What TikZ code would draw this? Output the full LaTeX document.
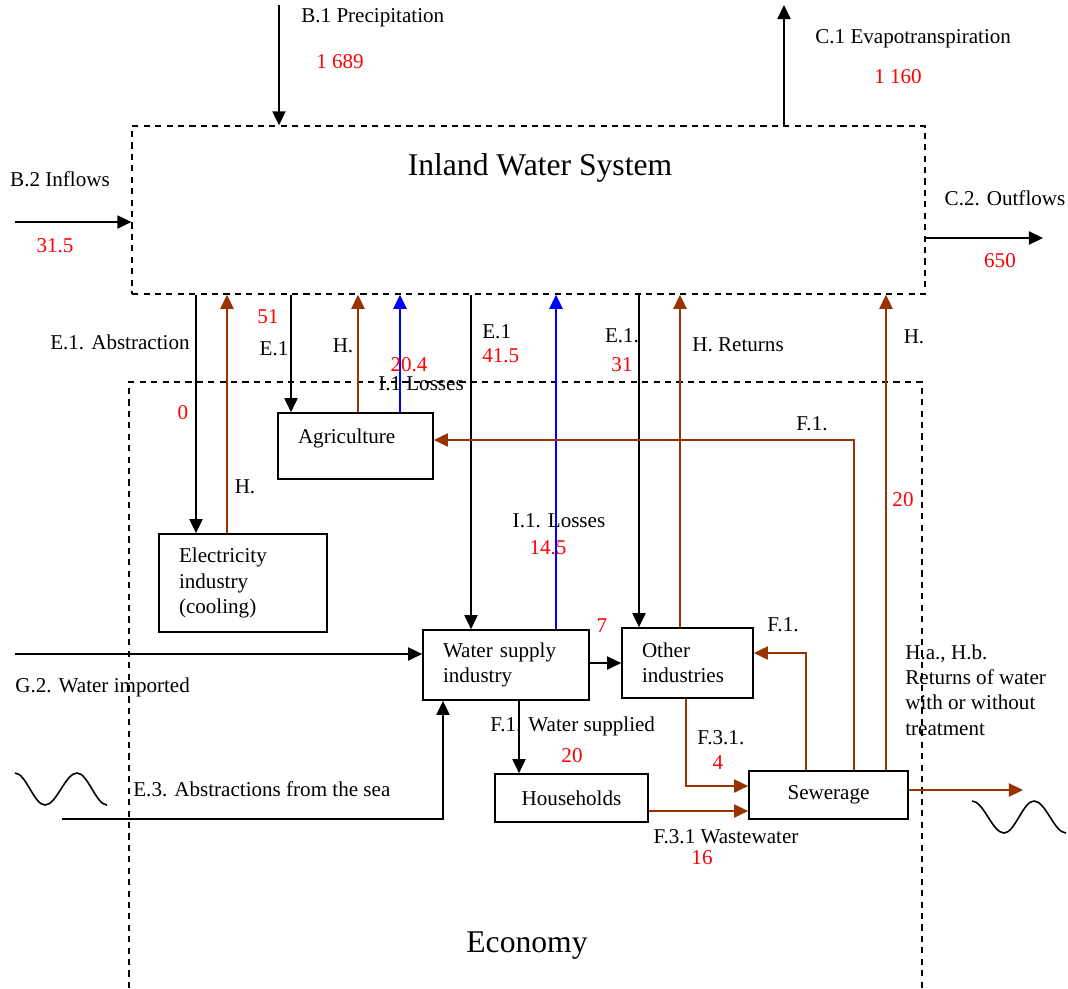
\documentclass[tikz,border=0pt,12pt]{standalone}
\usepackage{fontspec}
\setmainfont{Liberation Serif}
\usetikzlibrary{arrows.meta}
\definecolor{cBrown}{HTML}{993300}
\definecolor{cBlue}{HTML}{0000FF}
\definecolor{cRed}{HTML}{FF0000}
\tikzset{
  txt/.style={inner sep=0pt,font=\fontsize{12}{14.5}\selectfont},
  num/.style={txt,text=cRed},
  big/.style={inner sep=0pt,font=\fontsize{18}{22}\selectfont},
  unit/.style={draw,line width=1pt,inner xsep=0.4cm,inner ysep=0pt,
               align=left,font=\fontsize{12}{14.5}\selectfont},
  zone/.style={draw,line width=0.8pt,dash pattern=on 3.5pt off 3pt},
  flow/.style={-{Triangle[length=8pt,width=7.5pt]},line width=0.9pt},
  ret/.style={flow,cBrown},
  loss/.style={flow,cBlue},
  wave/.style={line width=0.9pt},
}

\begin{document}
\begin{tikzpicture}[x=0.02cm,y=-0.02cm]
  \useasboundingbox (0,0) rectangle (1068,988);

  % the two areas
  \node[zone,minimum width=15.86cm,minimum height=3.36cm,inner sep=0pt] (iws) at (528.5,210) {};
  \node[big] (ttlIws) at (540,168) {Inland Water System};
  \coordinate (ecoSW) at (129,988);
  \coordinate (ecoNE) at (922,382);
  \draw[zone] (ecoSW) |- (ecoNE) -- (ecoNE |- ecoSW);
  \node[big] (ttlEco) at (527,946) {Economy};

  % economic units
  \node[unit,text width=2.56cm,minimum height=1.96cm] (elec) at (243,583)
       {Electricity\\industry\\(cooling)};
  \node[unit,text width=2.3cm,minimum height=1.32cm,text depth=11.6pt] (agri) at (355.5,446)
       {Agriculture};
  \node[unit,text width=2.52cm,minimum height=1.4cm] (ws) at (506,665)
       {Water supply\\industry};
  \node[unit,text width=1.82cm,minimum height=1.4cm] (oi) at (687.5,663)
       {Other\\industries};
  \node[unit,align=center,minimum width=3.06cm,minimum height=0.96cm] (hh) at (571.5,798)
       {Households};
  \node[unit,align=center,minimum width=3.18cm,minimum height=0.96cm] (sew) at (828.5,795)
       {Sewerage};

  % flows with nature
  \coordinate (pTop) at (279,5);
  \coordinate (eTop) at (784,5);
  \coordinate (inL) at (15,222);
  \coordinate (outR) at (1043,238);
  \draw[flow] (pTop) -- (pTop |- iws.north);
  \draw[flow] (eTop |- iws.north) -- (eTop);
  \draw[flow] (inL) -- (inL -| iws.west);
  \draw[flow] (outR -| iws.east) -- (outR);

  \foreach \x/\n in {196/elec,291/agri,471/ws,639/oi}
     \draw[flow] (\x,0 |- iws.south) -- (\x,0 |- \n.north);
  \foreach \x/\n in {227/elec,358/agri,680/oi,886/sew}
     \draw[ret] (\x,0 |- \n.north) -- (\x,0 |- iws.south);
  \foreach \x/\n in {400/agri,556/ws}
     \draw[loss] (\x,0 |- \n.north) -- (\x,0 |- iws.south);

  % flows inside the economy
  \draw[ret] (854,0 |- sew.north) |- (agri.east |- 0,440);
  \draw[ret] (806,0 |- sew.north) |- (oi.east |- 0,653);
  \draw[flow] (ws.east |- 0,663) -- (oi.west |- 0,663);
  \draw[flow] (519,0 |- ws.south) -- (519,0 |- hh.north);
  \draw[ret] (686,0 |- oi.south) |- (sew.west |- 0,786);
  \draw[ret] (hh.east |- 0,811) -- (sew.west |- 0,811);

  \coordinate (impL) at (15,654);
  \coordinate (seaL) at (62,819);
  \coordinate (seaR) at (1023,790);
  \draw[flow] (impL) -- (impL -| ws.west);
  \draw[flow] (seaL) -| (443,0 |- ws.south);
  \draw[ret] (sew.east |- seaR) -- (seaR);

  % the sea
  \draw[wave] (15,773) cos (30,789) sin (45,805) cos (61,789) sin (77,773) cos (92,789) sin (107,805);
  \draw[wave] (972,801) cos (988,817) sin (1004,833) cos (1019,817) sin (1034,801) cos (1050,817) sin (1066,833);

  % labels
  \node[txt,anchor=west] (lPrec) at (301,18) {B.1 Precipitation};
  \node[num] (nPrec) at (340,62) {1 689};
  \node[txt,anchor=west] (lEvap) at (815,39) {C.1 Evapotranspiration};
  \node[num] (nEvap) at (898,77) {1 160};
  \node[txt] (lIn) at (60,179) {B.2 Inflows};
  \node[num] (nIn) at (55,246) {31.5};
  \node[txt] (lOut) at (1005,198) {C.2. Outflows};
  \node[num] (nOut) at (1000,261) {650};

  \node[txt,anchor=east] (lAbs) at (190,342) {E.1. Abstraction};
  \node[num] (nElE) at (183,413) {0};
  \node[num] (nElH) at (268,317) {51};
  \node[txt] (lElH) at (245,487) {H.};
  \node[txt] (lAgE) at (274,349) {E.1};
  \node[txt] (lAgH) at (343,346) {H.};
  \node[num] (nAgL) at (409,365) {20.4};
  \node[txt] (lAgL) at (421,384) {I.1 Losses};
  \node[txt,anchor=west] (lWsE) at (482,332) {E.1};
  \node[num,anchor=west] (nWsE) at (482,356) {41.5};
  \node[txt] (lWsL) at (559,521) {I.1. Losses};
  \node[num] (nWsL) at (548,548) {14.5};
  \node[txt] (lOiE) at (622,336) {E.1.};
  \node[num] (nOiE) at (622,365) {31};
  \node[txt,anchor=west] (lOiH) at (692,345) {H. Returns};
  \node[txt] (lSwH) at (914,337) {H.};
  \node[num] (nSwH) at (903,500) {20};
  \node[txt] (lSwAg) at (812,424) {F.1.};
  \node[txt] (lSwOi) at (783,625) {F.1.};
  \node[num] (nWsOi) at (602,626) {7};

  \node[txt,anchor=west] (lImp) at (15,687) {G.2. Water imported};
  \node[txt,anchor=west] (lSea) at (133,789) {E.3. Abstractions from the sea};
  \node[txt,anchor=west] (lHh) at (490,726) {F.1. Water supplied};
  \node[num] (nHh) at (572,756) {20};
  \node[txt,anchor=west] (lOiSw) at (697,738) {F.3.1.};
  \node[num] (nOiSw) at (718,763) {4};
  \node[txt] (lWw) at (726,837) {F.3.1 Wastewater};
  \node[num] (nWw) at (702,858) {16};
  \node[txt,anchor=west,align=left] (lRet) at (905,690)
       {H.a., H.b.\\Returns of water\\with or without\\treatment};
\end{tikzpicture}
\end{document}
